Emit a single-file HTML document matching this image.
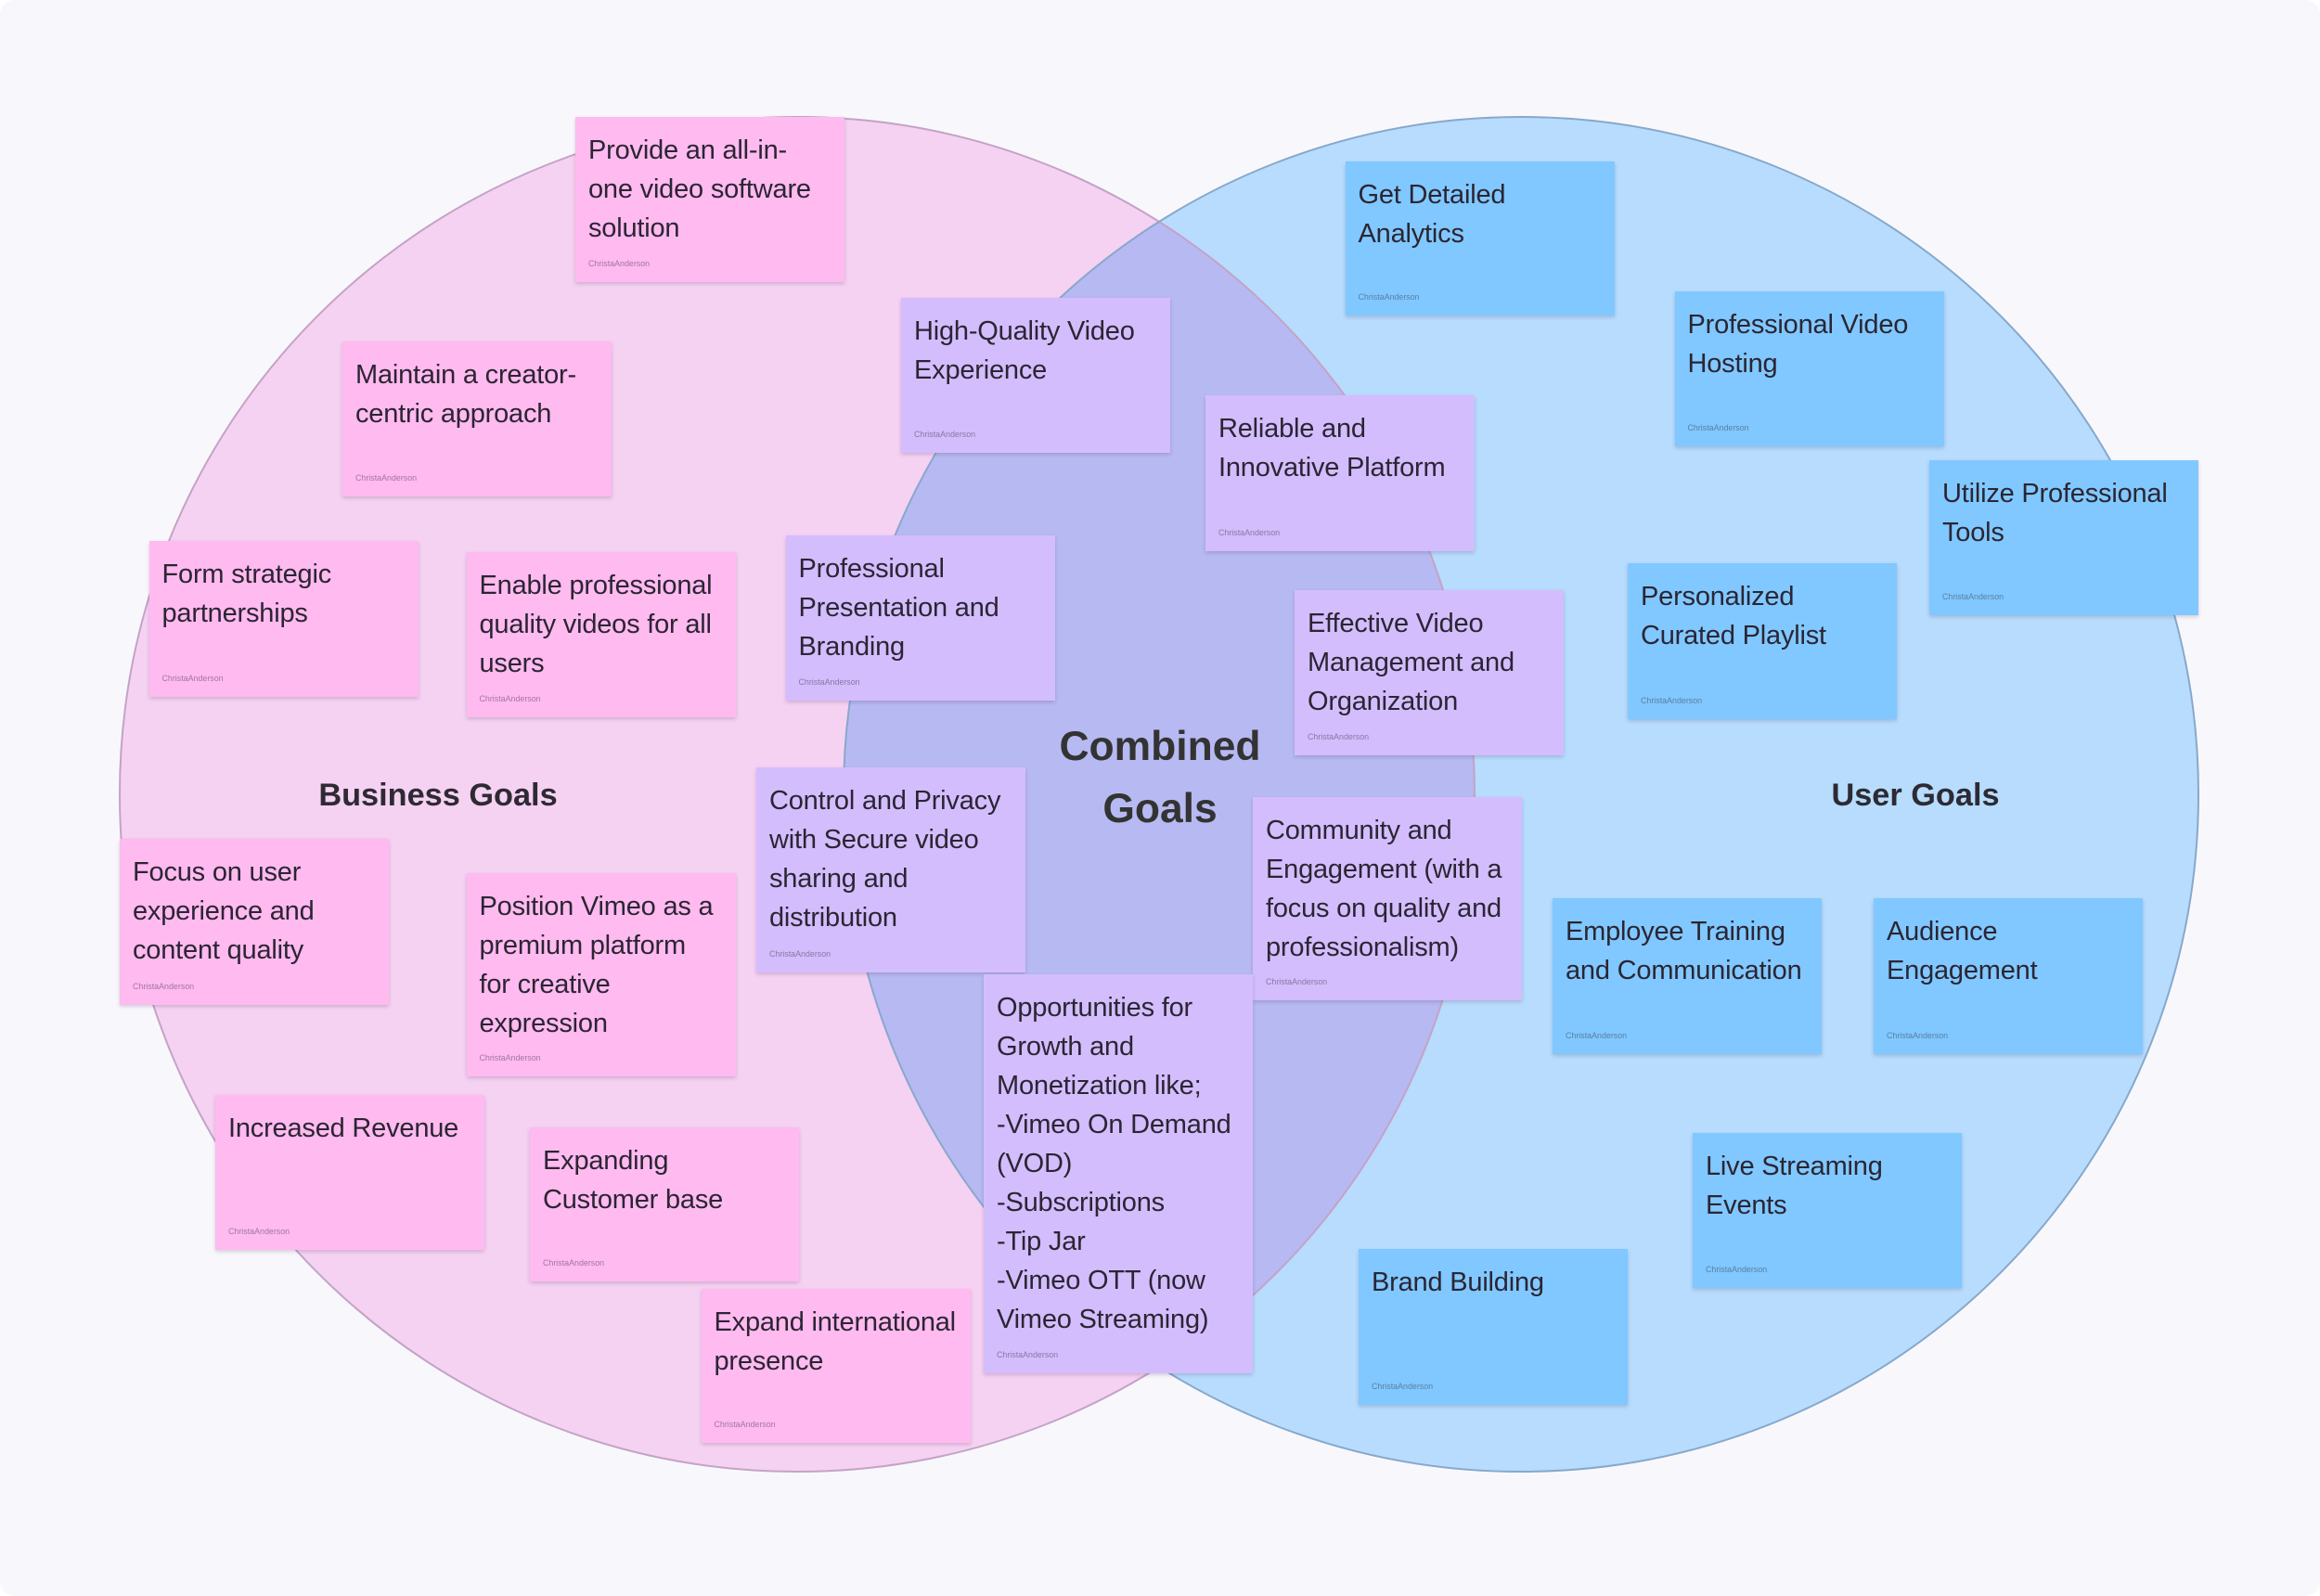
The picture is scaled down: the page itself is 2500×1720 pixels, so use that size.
<!DOCTYPE html>
<html><head><meta charset="utf-8">
<style>
html,body{margin:0;padding:0;background:#fff}
#c{position:relative;width:2500px;height:1720px;background:#f8f8fc;border-radius:16px;overflow:hidden;font-family:"Liberation Sans",sans-serif}
svg{position:absolute;left:0;top:0}
.s{position:absolute;width:290px;box-shadow:0 2px 4px rgba(60,40,80,.2);color:#2b2533;font-size:29px;letter-spacing:-.2px;line-height:42px;white-space:nowrap}
.s p{margin:0;position:absolute;left:14px;top:14.5px}
.s i{position:absolute;left:14px;bottom:13px;font-style:normal;font-size:8.9px;letter-spacing:0;line-height:14px;color:#2b2533;opacity:.45}
.p{background:#ffbaf0}.v{background:#d3bdfd}.b{background:#80c8ff}
.t{position:absolute;font-weight:bold;color:#2e2a33;text-align:center;white-space:nowrap;transform:translateX(-50%)}
</style></head><body><div id="c">
<svg width="2500" height="1720">
<defs><clipPath id="cl"><circle cx="859" cy="856" r="730"/></clipPath></defs>
<circle cx="859" cy="856" r="730" fill="#f5d1f2"/>
<circle cx="1639" cy="856" r="730" fill="#b7dcfd"/>
<circle cx="1639" cy="856" r="730" fill="#b7b9f2" clip-path="url(#cl)"/>
<circle cx="859" cy="856" r="730" fill="none" stroke="#c4a3c6" stroke-width="2"/>
<circle cx="1639" cy="856" r="730" fill="none" stroke="#88a8cb" stroke-width="2"/>
</svg>
<div class="t" style="left:472px;top:833px;font-size:34.3px;line-height:48px">Business Goals</div>
<div class="t" style="left:1250px;top:771px;font-size:44.4px;line-height:67px;color:#333">Combined<br>Goals</div>
<div class="t" style="left:2064px;top:833px;font-size:34.3px;line-height:48px">User Goals</div>

<div class="s p" style="left:620px;top:126px;height:178px"><p>Provide an all-in-<br>one video software<br>solution</p><i>ChristaAnderson</i></div>
<div class="s p" style="left:369px;top:368px;height:167px"><p>Maintain a creator-<br>centric approach</p><i>ChristaAnderson</i></div>
<div class="s p" style="left:160.5px;top:583px;height:168px"><p>Form strategic<br>partnerships</p><i>ChristaAnderson</i></div>
<div class="s p" style="left:502.5px;top:595px;height:178px"><p>Enable professional<br>quality videos for all<br>users</p><i>ChristaAnderson</i></div>
<div class="s p" style="left:129px;top:904px;height:179px"><p>Focus on user<br>experience and<br>content quality</p><i>ChristaAnderson</i></div>
<div class="s p" style="left:502.5px;top:941px;height:219px"><p>Position Vimeo as a<br>premium platform<br>for creative<br>expression</p><i>ChristaAnderson</i></div>
<div class="s p" style="left:232px;top:1180px;height:167px"><p>Increased Revenue</p><i>ChristaAnderson</i></div>
<div class="s p" style="left:571px;top:1215px;height:166px"><p>Expanding<br>Customer base</p><i>ChristaAnderson</i></div>
<div class="s p" style="left:755.5px;top:1389px;height:166px"><p>Expand international<br>presence</p><i>ChristaAnderson</i></div>

<div class="s v" style="left:971px;top:321px;height:167px"><p>High-Quality Video<br>Experience</p><i>ChristaAnderson</i></div>
<div class="s v" style="left:1299px;top:426px;height:168px"><p>Reliable and<br>Innovative Platform</p><i>ChristaAnderson</i></div>
<div class="s v" style="left:846.5px;top:577px;height:178px"><p>Professional<br>Presentation and<br>Branding</p><i>ChristaAnderson</i></div>
<div class="s v" style="left:1395px;top:636px;height:178px"><p>Effective Video<br>Management and<br>Organization</p><i>ChristaAnderson</i></div>
<div class="s v" style="left:815px;top:827px;height:221px"><p>Control and Privacy<br>with Secure video<br>sharing and<br>distribution</p><i>ChristaAnderson</i></div>
<div class="s v" style="left:1350px;top:859px;height:219px"><p>Community and<br>Engagement (with a<br>focus on quality and<br>professionalism)</p><i>ChristaAnderson</i></div>
<div class="s v" style="left:1060px;top:1050px;height:430px"><p>Opportunities for<br>Growth and<br>Monetization like;<br>-Vimeo On Demand<br>(VOD)<br>-Subscriptions<br>-Tip Jar<br>-Vimeo OTT (now<br>Vimeo Streaming)</p><i>ChristaAnderson</i></div>

<div class="s b" style="left:1449.5px;top:174px;height:166px"><p>Get Detailed<br>Analytics</p><i>ChristaAnderson</i></div>
<div class="s b" style="left:1804.5px;top:314px;height:167px"><p>Professional Video<br>Hosting</p><i>ChristaAnderson</i></div>
<div class="s b" style="left:2079px;top:496px;height:167px"><p>Utilize Professional<br>Tools</p><i>ChristaAnderson</i></div>
<div class="s b" style="left:1754px;top:607px;height:168px"><p>Personalized<br>Curated Playlist</p><i>ChristaAnderson</i></div>
<div class="s b" style="left:1673px;top:968px;height:168px"><p>Employee Training<br>and Communication</p><i>ChristaAnderson</i></div>
<div class="s b" style="left:2019px;top:968px;height:168px"><p>Audience<br>Engagement</p><i>ChristaAnderson</i></div>
<div class="s b" style="left:1824px;top:1221px;height:167px"><p>Live Streaming<br>Events</p><i>ChristaAnderson</i></div>
<div class="s b" style="left:1464px;top:1346px;height:168px"><p>Brand Building</p><i>ChristaAnderson</i></div>
</div></body></html>
